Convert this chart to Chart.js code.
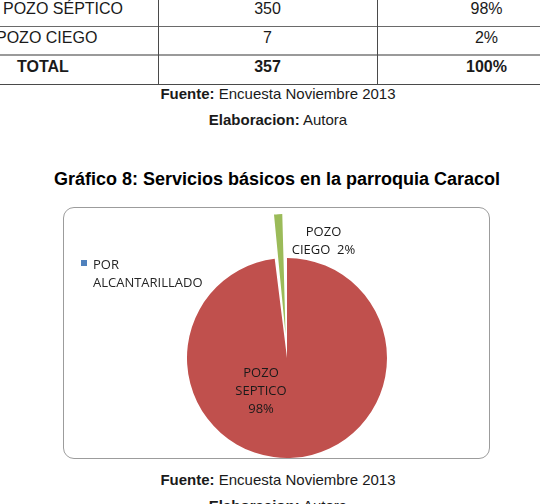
<!DOCTYPE html>
<html lang="es">
<head>
<meta charset="utf-8">
<title>Gráfico 8: Servicios básicos en la parroquia Caracol</title>
<script src="https://cdn.jsdelivr.net/npm/chart.js@4.4.1/dist/chart.umd.min.js"></script>
<style>
    html, body {
        margin: 0;
        padding: 0;
        width: 540px;
        height: 504px;
        overflow: hidden;
        background: #ffffff;
        font-family: "Liberation Sans", Arial, sans-serif;
        color: #1a1a1a;
    }
    .linea { position: absolute; }
    .celda { position: absolute; white-space: nowrap; font-size: 16px; line-height: 20px; height: 20px; }
    .centro { text-align: center; }
    .nota { position: absolute; left: 0; width: 556px; text-align: center; font-size: 15px; line-height: 20px; }
    #titulo { position: absolute; left: 0; width: 554px; top: 167px; text-align: center; font-size: 18px; font-weight: bold; line-height: 24px; color: #000; }
    #marco {
        position: absolute; left: 63px; top: 207px; width: 425px; height: 250px;
        border: 1px solid #9c9c9c; border-radius: 11px; pointer-events: none;
    }
    #grafico { position: absolute; left: 63px; top: 207px; }
</style>
</head>
<body>
<div id="tabla"></div>
<div class="nota" style="top:84px"><b>Fuente:</b> Encuesta Noviembre 2013</div>
<div class="nota" style="top:110px"><b>Elaboracion:</b> Autora</div>
<div id="titulo">Gráfico 8: Servicios básicos en la parroquia Caracol</div>
<canvas id="grafico" width="427" height="252"></canvas>
<div id="marco"></div>
<div class="nota" style="top:470px"><b>Fuente:</b> Encuesta Noviembre 2013</div>
<div class="nota" style="top:496px"><b>Elaboracion:</b> Autora</div>

<script>
// Tabla de frecuencias (parte visible)
const tableRows = ["POZO SÉPTICO", "POZO CIEGO", "TOTAL"];
const tableCounts = ["350", "7", "357"];
const tablePercents = ["98%", "2%", "100%"];

// Datos del gráfico
const categories = ["POR ALCANTARILLADO", "POZO SEPTICO", "POZO CIEGO"];
const viviendas = [0, 350, 7];
const sliceColors = ["#4F81BD", "#C0504D", "#9BBB59"];

/**
 * Dibuja la parte visible de la tabla con bordes
 */
function renderTable() {
    const tabla = document.getElementById("tabla");
    const rowTops = [-2, 26, 55];
    const rowBottoms = [26, 55, 84];
    const firstIndent = [3, -4, 17];
    const colLines = [158, 377];
    let html = "";

    rowTops.forEach((top, i) => {
        const y = (top + rowBottoms[i]) / 2 - 3 - 10;
        const weight = i === tableRows.length - 1 ? "bold" : "normal";
        html += `<div class="celda" style="left:${firstIndent[i]}px;top:${y}px;font-weight:${weight}">${tableRows[i]}</div>`;
        html += `<div class="celda centro" style="left:158px;width:219px;top:${y}px;font-weight:${weight}">${tableCounts[i]}</div>`;
        html += `<div class="celda centro" style="left:377px;width:219px;top:${y}px;font-weight:${weight}">${tablePercents[i]}</div>`;
    });

    html += `<div class="linea" style="left:0;width:540px;top:26px;height:1px;background:#6a6a6a"></div>`;
    html += `<div class="linea" style="left:0;width:540px;top:54px;height:2px;background:#9a9a9a"></div>`;
    html += `<div class="linea" style="left:0;width:540px;top:84px;height:1px;background:#4a4a4a"></div>`;
    colLines.forEach((x) => {
        html += `<div class="linea" style="left:${x}px;width:1px;top:0;height:85px;background:#4a4a4a"></div>`;
    });
    tabla.innerHTML = html;
}

// Leyenda a la izquierda, con el texto partido en dos líneas
const legendLeft = {
    id: "legendLeft",
    afterDraw(chart) {
        const ctx = chart.ctx;
        const words = chart.data.labels[0].split(" ");
        ctx.save();
        ctx.fillStyle = chart.data.datasets[0].backgroundColor[0];
        ctx.fillRect(18, 53, 6, 6);
        ctx.fillStyle = "#262626";
        ctx.font = '13px "Open Sans"';
        ctx.textAlign = "left";
        ctx.textBaseline = "middle";
        words.forEach((w, i) => ctx.fillText(w, 30, 58 + i * 18));
        ctx.restore();
    },
};

// Etiquetas de categoría y porcentaje
const sliceLabels = {
    id: "sliceLabels",
    afterDatasetsDraw(chart) {
        const ctx = chart.ctx;
        const meta = chart.getDatasetMeta(0);
        const data = chart.data.datasets[0].data;
        const total = data.reduce((a, b) => a + b, 0);
        // posición relativa al radio: [dx, dy, porcentaje en línea aparte]
        const place = { 1: [-0.26, 0.33, true], 2: [0.365, -1.17, false] };

        ctx.save();
        ctx.fillStyle = "#1a1a1a";
        ctx.font = '13px "Open Sans"';
        ctx.textAlign = "center";
        ctx.textBaseline = "middle";
        Object.keys(place).forEach((k) => {
            const arc = meta.data[k];
            const [dx, dy, separate] = place[k];
            const pct = Math.round((data[k] / total) * 100) + "%";
            const lines = chart.data.labels[k].split(" ");
            if (separate) {
                lines.push(pct);
            } else {
                lines[lines.length - 1] += "  " + pct;
            }
            const cx = arc.x + dx * arc.outerRadius;
            const cy = arc.y + dy * arc.outerRadius;
            const start = cy - ((lines.length - 1) * 18) / 2;
            lines.forEach((t, i) => ctx.fillText(t, cx, start + i * 18));
        });
        ctx.restore();
    },
};

function renderPie(canvasId) {
    const ctx = document.getElementById(canvasId).getContext("2d");
    return new Chart(ctx, {
        type: "pie",
        data: {
            labels: categories,
            datasets: [
                {
                    data: viviendas,
                    backgroundColor: sliceColors,
                    borderWidth: 0,
                    offset: [0, 0, 94],
                    radius: 100,
                    clip: false,
                },
            ],
        },
        options: {
            responsive: false,
            animation: false,
            layout: { padding: { top: 50, left: 21, right: 0, bottom: 0 } },
            plugins: {
                legend: { display: false },
                tooltip: { enabled: false },
            },
        },
        plugins: [legendLeft, sliceLabels],
    });
}

renderTable();
renderPie("grafico");
</script>
</body>
</html>
